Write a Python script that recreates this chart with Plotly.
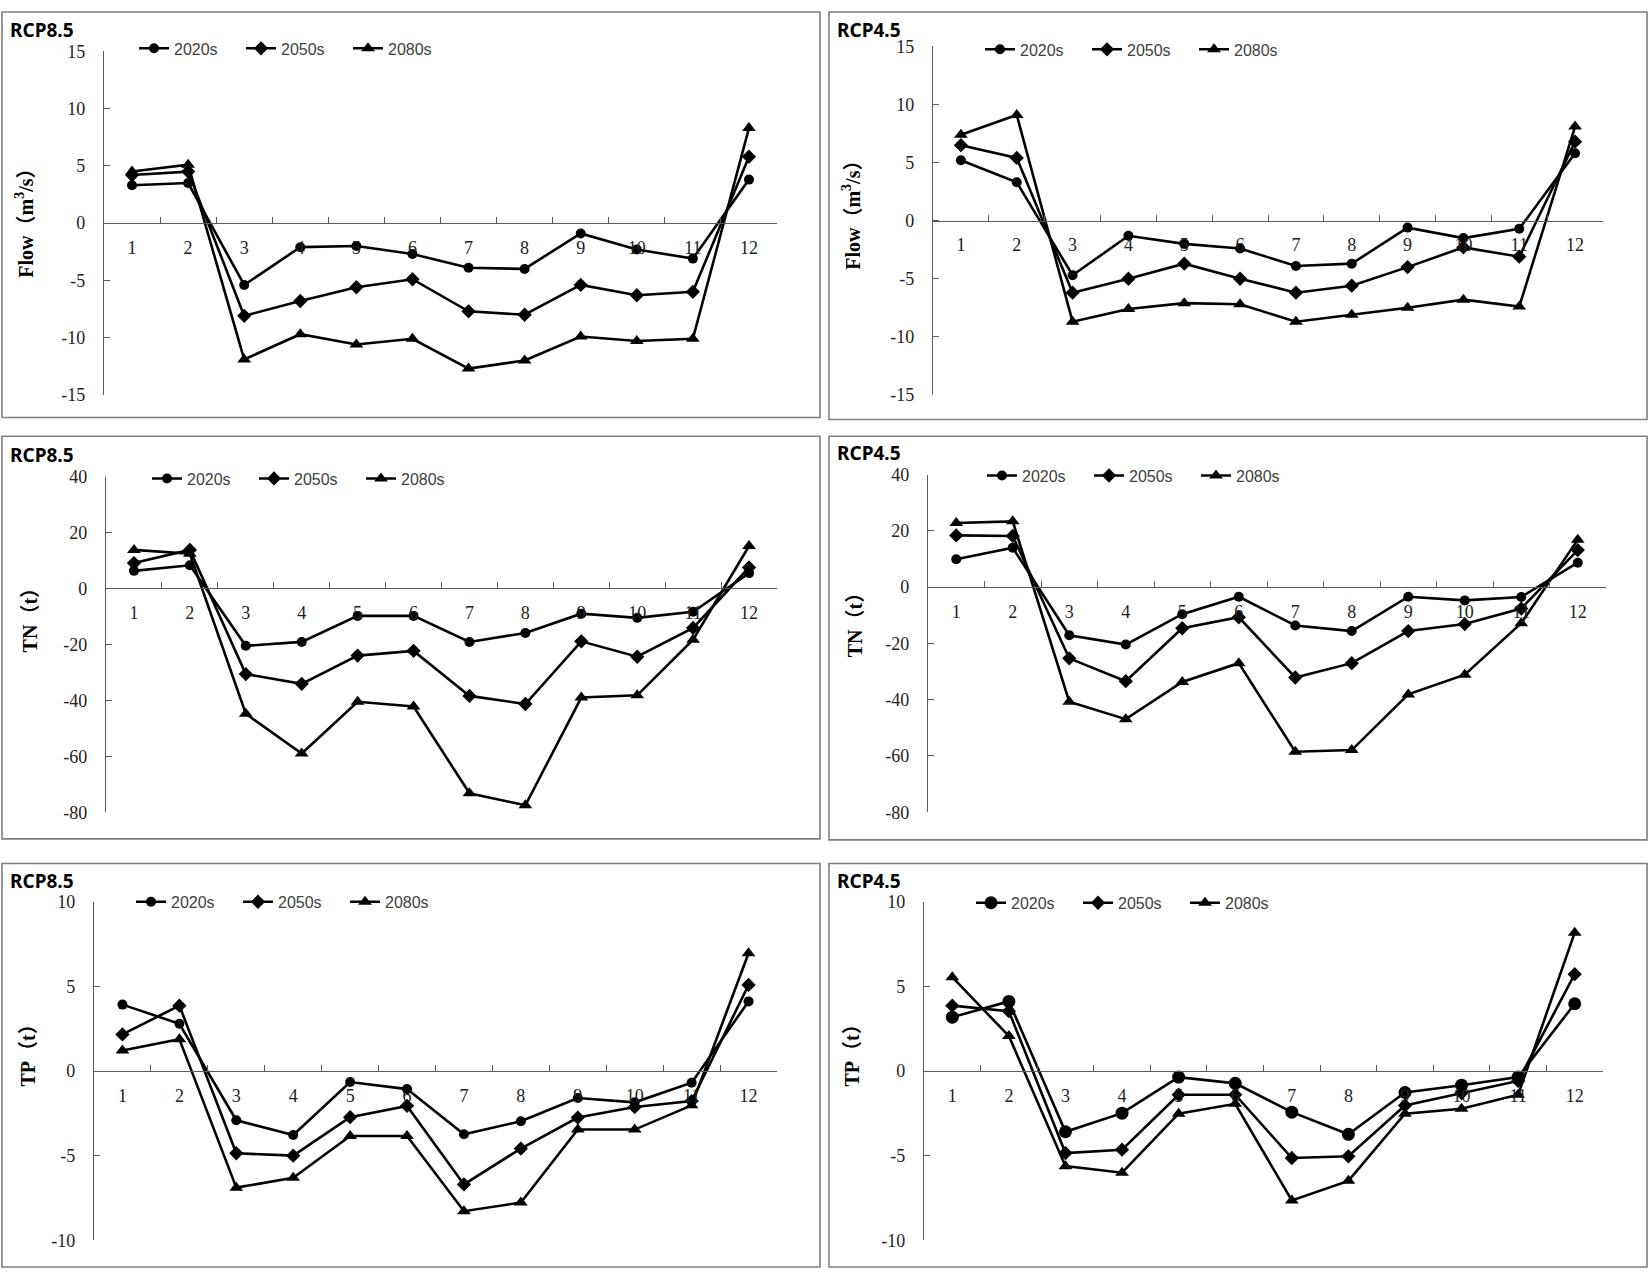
import plotly.graph_objects as go

# ---------------- data ----------------
months = [str(i) for i in range(1, 13)]
series_names = ["2020s", "2050s", "2080s"]

flow_rcp85_2020s = [3.3, 3.5, -5.4, -2.1, -2.0, -2.7, -3.9, -4.0, -0.9, -2.3, -3.1, 3.8]
flow_rcp85_2050s = [4.2, 4.5, -8.1, -6.8, -5.6, -4.9, -7.7, -8.0, -5.4, -6.3, -6.0, 5.8]
flow_rcp85_2080s = [4.5, 5.1, -11.9, -9.7, -10.6, -10.1, -12.7, -12.0, -9.9, -10.3, -10.1, 8.3]

flow_rcp45_2020s = [5.2, 3.3, -4.7, -1.3, -2.0, -2.4, -3.9, -3.7, -0.6, -1.5, -0.7, 5.8]
flow_rcp45_2050s = [6.5, 5.4, -6.2, -5.0, -3.7, -5.0, -6.2, -5.6, -4.0, -2.3, -3.1, 6.8]
flow_rcp45_2080s = [7.4, 9.1, -8.7, -7.6, -7.1, -7.2, -8.7, -8.1, -7.5, -6.8, -7.4, 8.1]

tn_rcp85_2020s = [6.3, 8.3, -20.5, -19.1, -9.8, -9.8, -19.1, -15.9, -9.0, -10.5, -8.3, 5.5]
tn_rcp85_2050s = [9.1, 13.8, -30.6, -34.1, -24.0, -22.3, -38.4, -41.3, -18.9, -24.4, -14.1, 7.5]
tn_rcp85_2080s = [13.8, 12.4, -44.8, -59.0, -40.5, -42.2, -73.2, -77.5, -39.0, -38.2, -18.3, 15.2]

tn_rcp45_2020s = [9.9, 14.0, -17.1, -20.4, -9.6, -3.4, -13.6, -15.6, -3.4, -4.7, -3.5, 8.7]
tn_rcp45_2050s = [18.4, 18.2, -25.3, -33.4, -14.6, -10.7, -32.1, -27.0, -15.6, -13.1, -7.6, 13.2]
tn_rcp45_2080s = [22.8, 23.4, -40.7, -46.9, -33.7, -27.0, -58.5, -57.9, -38.1, -31.1, -12.8, 16.9]

tp_rcp85_2020s = [3.93, 2.8, -2.9, -3.77, -0.64, -1.06, -3.73, -2.96, -1.59, -1.84, -0.68, 4.12]
tp_rcp85_2050s = [2.17, 3.87, -4.85, -4.99, -2.72, -2.05, -6.69, -4.57, -2.74, -2.12, -1.77, 5.09]
tp_rcp85_2080s = [1.22, 1.89, -6.88, -6.3, -3.83, -3.83, -8.27, -7.76, -3.45, -3.45, -2.02, 6.96]

tp_rcp45_2020s = [3.19, 4.12, -3.58, -2.48, -0.35, -0.72, -2.42, -3.73, -1.26, -0.83, -0.35, 3.98]
tp_rcp45_2050s = [3.87, 3.54, -4.84, -4.64, -1.39, -1.39, -5.13, -5.03, -2.03, -1.29, -0.58, 5.73]
tp_rcp45_2080s = [5.55, 2.07, -5.61, -6.0, -2.51, -1.93, -7.64, -6.48, -2.51, -2.22, -1.39, 8.18]

flow_ticks = [-15, -10, -5, 0, 5, 10, 15]
tn_ticks = [-80, -60, -40, -20, 0, 20, 40]
tp_ticks = [-10, -5, 0, 5, 10]

# ---------------- layout helpers ----------------
W, H = 1650, 1280


def fx(x):
    return x / W


def fy(y):
    return 1 - y / H


symbols = ["circle", "diamond", "triangle-up"]

panels = [
    dict(scen="RCP8.5", title="Flow（m<sup>3</sup>/s）",
         data=[flow_rcp85_2020s, flow_rcp85_2050s, flow_rcp85_2080s], ticks=flow_ticks,
         x0=104, x1=777, ytop=42, ybot=391,
         border=(2, 2, 820, 414), label=(8, 20), ytitle=(24, 212), legend=(134, 39), csize=10),
    dict(scen="RCP4.5", title="Flow（m<sup>3</sup>/s）",
         data=[flow_rcp45_2020s, flow_rcp45_2050s, flow_rcp45_2080s], ticks=flow_ticks,
         x0=933, x1=1603, ytop=37, ybot=391,
         border=(829, 2, 1647, 416), label=(835, 20), ytitle=(851, 204), legend=(980, 40), csize=10),
    dict(scen="RCP8.5", title="TN（t）",
         data=[tn_rcp85_2020s, tn_rcp85_2050s, tn_rcp85_2080s], ticks=tn_ticks,
         x0=106, x1=777, ytop=474, ybot=815,
         border=(2, 433, 820, 842), label=(8, 452), ytitle=(30, 615), legend=(147, 476), csize=10),
    dict(scen="RCP4.5", title="TN（t）",
         data=[tn_rcp45_2020s, tn_rcp45_2050s, tn_rcp45_2080s], ticks=tn_ticks,
         x0=928, x1=1606, ytop=472, ybot=815,
         border=(829, 433, 1647, 843), label=(835, 450), ytitle=(855, 620), legend=(982, 473), csize=10),
    dict(scen="RCP8.5", title="TP（t）",
         data=[tp_rcp85_2020s, tp_rcp85_2050s, tp_rcp85_2080s], ticks=tp_ticks,
         x0=94, x1=777, ytop=906, ybot=1250,
         border=(2, 867, 820, 1277), label=(8, 885), ytitle=(28, 1057), legend=(131, 906), csize=10),
    dict(scen="RCP4.5", title="TP（t）",
         data=[tp_rcp45_2020s, tp_rcp45_2050s, tp_rcp45_2080s], ticks=tp_ticks,
         x0=924, x1=1603, ytop=906, ybot=1250,
         border=(829, 867, 1647, 1277), label=(835, 885), ytitle=(852, 1057), legend=(971, 907), csize=13),
]

fig = go.Figure()
layout = dict(
    width=W, height=H, autosize=False,
    margin=dict(l=0, r=0, t=0, b=0),
    paper_bgcolor="white", plot_bgcolor="rgba(0,0,0,0)",
    showlegend=True, hovermode=False,
    shapes=[], annotations=[],
)

AXIS_COLOR = "#5a5a5a"
TICK_FONT = dict(family="Liberation Serif, Times New Roman, serif", size=18, color="#222222")

for i, p in enumerate(panels, start=1):
    sfx = "" if i == 1 else str(i)
    lid = "legend" if i == 1 else f"legend{i}"
    yr = [min(p["ticks"]), max(p["ticks"])]
    zero_px = p["ybot"] - (0 - yr[0]) / (yr[1] - yr[0]) * (p["ybot"] - p["ytop"])

    for k, (name, vals) in enumerate(zip(series_names, p["data"])):
        msize = p["csize"] if k == 0 else (11 if k == 1 else 12)
        fig.add_trace(go.Scatter(
            x=months, y=vals, name=name, mode="lines+markers",
            line=dict(color="black", width=2.6),
            marker=dict(symbol=symbols[k], size=msize, color="black"),
            xaxis="x" + sfx, yaxis="y" + sfx, legend=lid,
        ))

    layout["xaxis" + sfx] = dict(
        domain=[fx(p["x0"]), fx(p["x1"])], anchor="free", position=fy(zero_px),
        type="category", range=[-0.5, 11.5], tickson="boundaries",
        ticks="inside", ticklen=6, tickcolor=AXIS_COLOR, tickwidth=1.2,
        showline=True, linecolor=AXIS_COLOR, linewidth=1.2,
        showgrid=False, zeroline=False, tickfont=TICK_FONT,
        ticklabelstandoff=8, fixedrange=True,
    )
    layout["yaxis" + sfx] = dict(
        domain=[fy(p["ybot"]), fy(p["ytop"])], anchor="x" + sfx,
        range=yr, tickmode="array", tickvals=p["ticks"],
        ticktext=[str(t) for t in p["ticks"]],
        ticks="inside", ticklen=6, tickcolor=AXIS_COLOR, tickwidth=1.2,
        showline=True, linecolor=AXIS_COLOR, linewidth=1.2,
        showgrid=False, zeroline=False, tickfont=TICK_FONT,
        ticklabelstandoff=14, fixedrange=True,
    )
    lx, ly = p["legend"]
    layout[lid] = dict(
        orientation="h", x=fx(lx), xanchor="left", y=fy(ly), yanchor="middle",
        bgcolor="rgba(0,0,0,0)", borderwidth=0,
        font=dict(family="Liberation Sans, Arial, sans-serif", size=16, color="#404040"),
        itemwidth=30, entrywidth=62, entrywidthmode="pixels",
        itemclick=False, itemdoubleclick=False,
    )
    bx0, by0, bx1, by1 = p["border"]
    layout["shapes"].append(dict(
        type="rect", xref="paper", yref="paper",
        x0=fx(bx0), x1=fx(bx1), y0=fy(by1), y1=fy(by0),
        line=dict(color="#7f7f7f", width=1.6), fillcolor="rgba(0,0,0,0)", layer="below",
    ))
    tx, ty = p["label"]
    layout["annotations"].append(dict(
        text="<b>" + p["scen"] + "</b>", xref="paper", yref="paper",
        x=fx(tx), y=fy(ty), xanchor="left", yanchor="middle", showarrow=False,
        font=dict(family="Noto Sans, Open Sans, sans-serif", size=19, color="black"),
    ))
    yx, yy = p["ytitle"]
    layout["annotations"].append(dict(
        text="<b>" + p["title"] + "</b>", xref="paper", yref="paper",
        x=fx(yx), y=fy(yy), xanchor="center", yanchor="middle", showarrow=False,
        textangle=-90,
        font=dict(family="Liberation Serif, Noto Sans CJK SC, serif", size=20, color="black"),
    ))

fig.update_layout(**layout)
fig.write_html(
    "out.html",
    config={"displayModeBar": False},
    post_script=(
        "document.documentElement.style.margin='0px';"
        "document.body.style.margin='0px';document.body.style.padding='0px';"
        "document.body.style.overflow='hidden';"
        "var d=document.getElementById('{plot_id}');"
        "d.style.position='fixed';d.style.top='0px';d.style.left='0px';"
    ),
)
